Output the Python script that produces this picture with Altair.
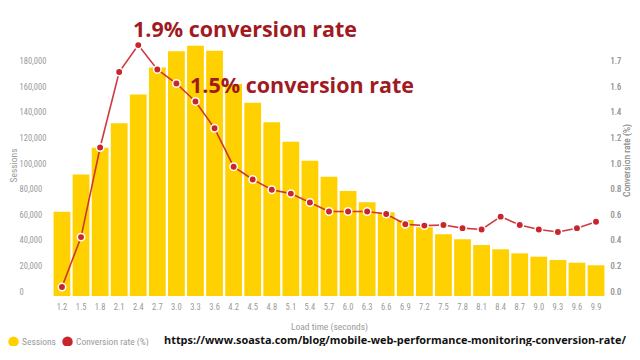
import altair as alt
import pandas as pd

load_times = ["1.2", "1.5", "1.8", "2.1", "2.4", "2.7", "3.0", "3.3", "3.6", "4.2",
              "4.5", "4.8", "5.1", "5.4", "5.7", "6.0", "6.3", "6.6", "6.9", "7.2",
              "7.5", "7.8", "8.1", "8.4", "8.7", "9.0", "9.3", "9.6", "9.9"]
sessions = [65800, 95000, 115800, 134900, 157500, 178600, 191300, 195500, 191600, 165600,
            151000, 135700, 120500, 105700, 93200, 82000, 73200, 65400, 59400, 53700,
            48200, 44300, 39800, 36500, 33300, 30700, 28100, 26000, 24000]
conv_rate = [0.07, 0.46, 1.16, 1.75, 1.96, 1.77, 1.66, 1.52, 1.31, 1.01,
             0.91, 0.83, 0.80, 0.73, 0.66, 0.66, 0.66, 0.64, 0.56, 0.55,
             0.555, 0.53, 0.52, 0.62, 0.555, 0.52, 0.50, 0.53, 0.58]
left_ticks = [0, 20000, 40000, 60000, 80000, 100000, 120000, 140000, 160000, 180000]
right_ticks = [0.0, 0.2, 0.4, 0.6, 0.8, 1.0, 1.2, 1.4, 1.6, 1.8]
annotations = ["1.9% conversion rate", "1.5% conversion rate"]
url = "https://www.soasta.com/blog/mobile-web-performance-monitoring-conversion-rate/"
series_names = ["Sessions", "Conversion rate (%)"]
series_colors = ["#FFD100", "#C9252C"]

df = pd.DataFrame({"t": load_times, "s": sessions, "c": conv_rate})
df["series_s"] = series_names[0]
df["series_c"] = series_names[1]

LABEL_FONT = "Liberation Sans Narrow, Roboto Condensed, Roboto, sans-serif"
GRAY = "#9a9a9a"

color_scale = alt.Scale(domain=series_names, range=series_colors)

x_enc = alt.X("t:N", sort=load_times,
              scale=alt.Scale(paddingInner=0.12, paddingOuter=0.03),
              axis=alt.Axis(title="Load time (seconds)", labelAngle=0, ticks=False, domain=False,
                            labelPadding=6, titlePadding=11, labelFont=LABEL_FONT,
                            labelFontSize=8.5, labelColor=GRAY, titleFont=LABEL_FONT,
                            titleFontSize=9.5, titleColor=GRAY, titleFontWeight="normal"))

base = alt.Chart(df)

bars = base.mark_bar().encode(
    x=x_enc,
    y=alt.Y("s:Q", scale=alt.Scale(domain=[0, 200000], nice=False),
            axis=alt.Axis(title="Sessions", values=left_ticks, format=",d", ticks=False, tickSize=0,
                          domain=False, grid=False, labelAlign="left", labelPadding=34,
                          labelOffset=-5, labelFont=LABEL_FONT, labelFontSize=8.5,
                          labelColor=GRAY, titleFont=LABEL_FONT, titleFontSize=9.5,
                          titleColor=GRAY, titleFontWeight="normal",
                          titleX=-40, titleY=125, titleAngle=270,
                          titleAlign="center", titleBaseline="middle")),
    color=alt.Color("series_s:N", scale=color_scale,
                    legend=alt.Legend(title=None, orient="none", direction="horizontal",
                                      legendX=-45, legendY=296, symbolType="circle",
                                      symbolSize=110, symbolStrokeWidth=0,
                                      labelFont=LABEL_FONT, labelFontSize=9.5, labelOffset=3,
                                      labelColor=GRAY, columnPadding=6, symbolOpacity=1)),
)

rate_y = alt.Y("c:Q", scale=alt.Scale(domain=[0, 2.0], nice=False),
               axis=alt.Axis(title="Conversion rate (%)", orient="right", values=right_ticks,
                             labelExpr="datum.value > 1.75 ? '1.7' : format(datum.value, '.1f')",
                             ticks=False, tickSize=0, domain=False, grid=False,
                             labelAlign="left", labelPadding=5, labelOffset=-5,
                             labelFont=LABEL_FONT, labelFontSize=8.5, labelColor=GRAY,
                             titleFont=LABEL_FONT, titleFontSize=9.5, titleColor=GRAY,
                             titleFontWeight="normal", titleX=21, titleY=120, titleAngle=270,
                             titleAlign="center", titleBaseline="middle"))

line = base.mark_line(strokeWidth=1.6, opacity=0.9).encode(
    x=x_enc, y=rate_y,
    color=alt.Color("series_c:N", scale=color_scale, legend=None),
)
points = base.mark_point(filled=True, size=55, stroke="white", strokeWidth=1.5, opacity=1).encode(
    x=x_enc, y=rate_y,
    color=alt.Color("series_c:N", scale=color_scale, legend=None),
)

ann_df = pd.DataFrame({"label": annotations})
ann1 = alt.Chart(ann_df.iloc[[0]]).mark_text(
    font="Open Sans", fontWeight="bold", fontSize=21.5, color="#A01B1F", align="center",
    baseline="middle").encode(text="label:N", x=alt.value(192), y=alt.value(-9))
ann2 = alt.Chart(ann_df.iloc[[1]]).mark_text(
    font="Open Sans", fontWeight="bold", fontSize=21.5, color="#A01B1F", align="center",
    baseline="middle").encode(text="label:N", x=alt.value(249), y=alt.value(47))

url_text = alt.Chart(pd.DataFrame({"u": [url]})).mark_text(
    font="Open Sans", fontWeight="bold", fontSize=10.9, color="#111111", align="left",
    baseline="middle").encode(text="u:N", x=alt.value(111), y=alt.value(301))

chart = alt.layer(bars, line, points, ann1, ann2, url_text).resolve_scale(
    y="independent"
).properties(
    width=552, height=256, autosize=alt.AutoSizeParams(type="none"),
    padding={"left": 45, "top": 32, "right": 27, "bottom": 50},
    background="white"
).configure_view(stroke=None)

chart.save("out.html", embed_options={"renderer": "svg", "actions": False})
